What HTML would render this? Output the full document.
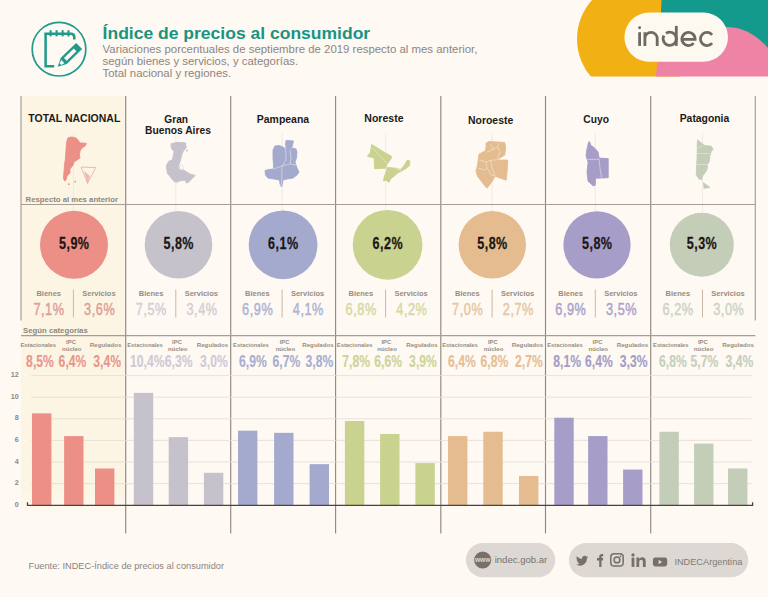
<!DOCTYPE html><html><head><meta charset="utf-8"><title>Índice de precios al consumidor</title>
<style>html,body{margin:0;padding:0;background:#fef9f3;}body{width:768px;height:597px;overflow:hidden;}svg{display:block;font-family:"Liberation Sans", sans-serif;}</style>
</head><body>
<svg width="768" height="597" viewBox="0 0 768 597">
<defs><linearGradient id="hlg" x1="0" y1="0" x2="0" y2="1"><stop offset="0" stop-color="#fdf5e4"/><stop offset="0.93" stop-color="#fdf5e4"/><stop offset="1" stop-color="#fef9f3"/></linearGradient></defs>
<rect x="0" y="0" width="768" height="597" fill="#fef9f3"/>
<rect x="21" y="96" width="104.7" height="424" fill="url(#hlg)"/>
<line x1="73.4" y1="133" x2="73.4" y2="212" stroke="#e9e4dc" stroke-width="0.7"/>
<line x1="175.8" y1="133" x2="175.8" y2="212" stroke="#e9e4dc" stroke-width="0.7"/>
<line x1="282.1" y1="133" x2="282.1" y2="212" stroke="#e9e4dc" stroke-width="0.7"/>
<line x1="385.6" y1="133" x2="385.6" y2="212" stroke="#e9e4dc" stroke-width="0.7"/>
<line x1="492.1" y1="133" x2="492.1" y2="212" stroke="#e9e4dc" stroke-width="0.7"/>
<line x1="595.3" y1="133" x2="595.3" y2="212" stroke="#e9e4dc" stroke-width="0.7"/>
<line x1="702.5" y1="133" x2="702.5" y2="212" stroke="#e9e4dc" stroke-width="0.7"/>
<g fill="none" stroke="#1f9a8b" stroke-linecap="butt">
<circle cx="59" cy="49.2" r="26.8" stroke-width="1.7"/>
<path d="M45.6 33.8 V66.2 H54.2" stroke-width="2.5"/>
<path d="M44.4 33.8 H71.5 Q74.3 34.2 74.3 37.5 V39.6" stroke-width="2.6"/>
<path d="M50.6 30.2 V36.4" stroke-width="2.1"/>
<path d="M56.6 30.2 V36.4" stroke-width="2.1"/>
<path d="M62.6 30.2 V36.4" stroke-width="2.1"/>
<path d="M68.5 30.2 V36.4" stroke-width="2.1"/>
</g>
<g transform="translate(57.7 66.7) rotate(-44)">
<path d="M0 0 L8.5 -4.3 L29.8 -4.3 L29.8 4.3 L8.5 4.3 Z" fill="#1f9a8b"/>
<rect x="10.6" y="-1.9" width="13.6" height="3.8" fill="#fef9f3"/>
<path d="M3.8 -1.2 L7.3 -2.1 L7.3 2.1 L3.8 1.2 Z" fill="#fef9f3"/>
</g>
<text x="102.60" y="38.80" font-size="16" font-weight="bold" fill="#189482" text-anchor="start" textLength="267.6" lengthAdjust="spacingAndGlyphs">Índice de precios al consumidor</text>
<text x="102.60" y="53.20" font-size="11" font-weight="normal" fill="#8c867f" text-anchor="start" textLength="374.8" lengthAdjust="spacingAndGlyphs">Variaciones porcentuales de septiembre de 2019 respecto al mes anterior,</text>
<text x="102.60" y="65.20" font-size="11" font-weight="normal" fill="#8c867f" text-anchor="start" textLength="195.5" lengthAdjust="spacingAndGlyphs">según bienes y servicios, y categorías.</text>
<text x="102.60" y="77.20" font-size="11" font-weight="normal" fill="#8c867f" text-anchor="start" textLength="128.5" lengthAdjust="spacingAndGlyphs">Total nacional y regiones.</text>
<clipPath id="lc"><rect x="560" y="0" width="208" height="76.5"/></clipPath>
<g clip-path="url(#lc)">
<circle cx="635" cy="39" r="58" fill="#f1b014"/>
<path d="M661.6 -2 Q660.2 30 658.6 58 L770 58 L770 -2 Z" fill="#139a8c"/>
<path d="M658.0 56 L655.6 78 L770 78 L770 50.5 Q752 28 728 27 Q690 27 658.0 56 Z" fill="#ee83a6"/>
</g>
<rect x="624.4" y="12.6" width="103.6" height="49.1" rx="24.55" fill="#fdf9f1"/>
<g fill="none" stroke="#6f6963" stroke-width="2.8">
<path d="M639.6 32.2 V45.9"/>
<path d="M644.9 45.9 V32.2 M644.9 38.6 A6.15 6.3 0 0 1 657.2 38.6 V45.9"/>
<path d="M676.3 25.9 V45.9"/>
<path d="M666.0 33.3 A6.6 6.6 0 1 1 663.9 35.7"/>
<path d="M681.9 39.3 H695.1 A6.6 6.6 0 1 0 693.6 43.2"/>
<path d="M712.1 34.8 A6.6 6.6 0 1 0 712.1 43.2"/>
</g>
<circle cx="639.6" cy="27.8" r="1.45" fill="#6f6963"/>
<g stroke="#8f8981" stroke-width="1">
<line x1="21.0" y1="96" x2="21.0" y2="320.5" stroke="#a39d95" stroke-width="1.15"/>
<line x1="125.7" y1="96" x2="125.7" y2="533.5" stroke="#8f8981" stroke-width="1.15"/>
<line x1="230.7" y1="96" x2="230.7" y2="533.5" stroke="#8f8981" stroke-width="1.15"/>
<line x1="335.6" y1="96" x2="335.6" y2="533.5" stroke="#8f8981" stroke-width="1.15"/>
<line x1="440.8" y1="96" x2="440.8" y2="533.5" stroke="#8f8981" stroke-width="1.15"/>
<line x1="545.5" y1="96" x2="545.5" y2="533.5" stroke="#8f8981" stroke-width="1.15"/>
<line x1="650.7" y1="96" x2="650.7" y2="533.5" stroke="#8f8981" stroke-width="1.15"/>
<line x1="755.3" y1="96" x2="755.3" y2="320.5" stroke="#a39d95" stroke-width="1.15"/>
</g>
<line x1="21" y1="204.5" x2="755.3" y2="204.5" stroke="#a49e96" stroke-width="1.1"/>
<line x1="21" y1="335.6" x2="755.3" y2="335.6" stroke="#a49e96" stroke-width="1.1"/>
<text x="25.60" y="201.70" font-size="7.2" font-weight="bold" fill="#8d877d" text-anchor="start" textLength="92.4" lengthAdjust="spacingAndGlyphs">Respecto al mes anterior</text>
<text x="23.10" y="332.50" font-size="7.2" font-weight="bold" fill="#8d877d" text-anchor="start" textLength="64.6" lengthAdjust="spacingAndGlyphs">Según categorías</text>
<text x="28.30" y="122.30" font-size="10" font-weight="bold" fill="#1c1a18" text-anchor="start" textLength="92.0" lengthAdjust="spacingAndGlyphs">TOTAL NACIONAL</text>
<text x="164.30" y="122.80" font-size="10" font-weight="bold" fill="#1c1a18" text-anchor="start" textLength="23.7" lengthAdjust="spacingAndGlyphs">Gran</text>
<text x="145.00" y="134.10" font-size="10" font-weight="bold" fill="#1c1a18" text-anchor="start" textLength="65.9" lengthAdjust="spacingAndGlyphs">Buenos Aires</text>
<text x="256.80" y="122.60" font-size="10" font-weight="bold" fill="#1c1a18" text-anchor="start" textLength="52.3" lengthAdjust="spacingAndGlyphs">Pampeana</text>
<text x="364.30" y="122.30" font-size="10" font-weight="bold" fill="#1c1a18" text-anchor="start" textLength="39.2" lengthAdjust="spacingAndGlyphs">Noreste</text>
<text x="468.00" y="123.50" font-size="10" font-weight="bold" fill="#1c1a18" text-anchor="start" textLength="45.3" lengthAdjust="spacingAndGlyphs">Noroeste</text>
<text x="583.30" y="123.20" font-size="10" font-weight="bold" fill="#1c1a18" text-anchor="start" textLength="25.7" lengthAdjust="spacingAndGlyphs">Cuyo</text>
<text x="679.70" y="121.90" font-size="10" font-weight="bold" fill="#1c1a18" text-anchor="start" textLength="49.6" lengthAdjust="spacingAndGlyphs">Patagonia</text>
<path d="M68.5 137.5 L72 137 L76 138 L78 140 L80 143 L83 143 L86.5 143.5 L85 146 L82 148 L80 151 L79.5 155 L80 158 L77 160 L74 162 L73 165 L70 169 L70 173 L67 176 L66 180 L64.5 181 L63.5 178 L64 172 L64.5 165 L65.5 158 L66 150 L66.5 143 L67.5 139 Z" fill="#ec8f87" stroke="#ec8f87" stroke-width="0.9" stroke-linejoin="round"/>
<path d="M171.1 143.8 L177.1 142.3 L185.4 142.8 L186.2 147.6 L183.2 151.4 L181.7 155.2 L180.2 161.2 L178.6 165.7 L180.2 169.5 L183.9 170.2 L190 174 L195.2 175.5 L192.2 178.5 L188.4 182.3 L186.2 183 L185.4 180 L180.2 180.8 L176.4 182.3 L174.1 181.5 L171.1 177.8 L167.3 173.2 L166.3 165.7 L168.8 161.2 L172.6 159.7 L173.4 154.4 L174.1 151.4 L171.9 149.1 L171.1 146.9 Z" fill="#c6c2cb" stroke="#c6c2cb" stroke-width="0.9" stroke-linejoin="round"/>
<path d="M286 140.5 L293.5 141 L292 147 L290 150 L293 148 L296 149 L297 152 L296.5 158 L295 162 L296 165 L297 168 L299 172 L297 175 L293 178 L287 179 L283 180 L282.5 184 L281.5 187 L280 184 L279.5 180 L274 179 L268 178 L265.5 175 L265 170.5 L269 169.5 L273.5 169 L273.5 165 L273 158 L273 150 L275 146 L279 145.5 L283 147 L285 149 L285.5 145 Z" fill="#a3aacd" stroke="#a3aacd" stroke-width="0.9" stroke-linejoin="round"/>
<path d="M371.6 144.4 L383.8 151.9 L391.7 156.5 L390.9 159 L387.1 164 L385.5 168.2 L374.6 168.7 L374.1 157.8 L367.4 156.5 L370.4 152.3 L371.2 147.7 Z" fill="#c9d28f" stroke="#c9d28f" stroke-width="0.9" stroke-linejoin="round"/>
<path d="M387.1 167.4 L395.5 168.2 L400.5 169.5 L403.9 165.7 L407.2 160.3 L409.7 160.7 L409.7 165.3 L406.4 168.2 L401.4 171.2 L398 172.8 L390.9 178.7 L388.8 182.5 L386.3 180.4 L383.4 180.8 L384.2 177 L386.7 170.3 Z" fill="#c9d28f" stroke="#c9d28f" stroke-width="0.9" stroke-linejoin="round"/>
<path d="M486.1 143 L489.1 141.5 L497.1 142 L504.7 142.5 L505.7 148 L504.7 155.1 L497.5 159.5 L497.1 160.1 L507.7 160.1 L507.2 170 L506.2 180.2 L495.1 176.2 L491.6 182.2 L487.1 188.2 L485.1 186.2 L477.5 176.2 L476 171.2 L477.5 165.1 L479 154.1 L485.1 151.1 L486.1 147.1 Z" fill="#e5bc8f" stroke="#e5bc8f" stroke-width="0.9" stroke-linejoin="round"/>
<path d="M589.1 141.5 L590.3 143.2 L590.6 145.1 L594.6 148.1 L598.1 152.1 L599.1 158.1 L608.2 158.6 L608.2 177.7 L595.6 178.2 L595.1 185.3 L593.1 185.8 L588.1 181.2 L587 172.2 L588.1 162.2 L586 155.6 L587 149.1 L587.8 145.5 L588.4 143 Z" fill="#a69ec8" stroke="#a69ec8" stroke-width="0.9" stroke-linejoin="round"/>
<path d="M697.8 139.8 L700 142 L704.3 145.3 L711.4 146.3 L713.1 149.6 L711.4 150.7 L709.8 156.2 L709.3 161.6 L707.1 164.9 L707.6 167.6 L706 171.4 L702.7 175.8 L701.6 179.6 L698.9 179 L696.2 174.7 L696.7 166 L697.3 151.8 L697.3 143.1 Z" fill="#c3cdb7" stroke="#c3cdb7" stroke-width="0.9" stroke-linejoin="round"/>
<path d="M703.5 182.8 L710 187.5 L704 188.2 Z" fill="#c3cdb7" stroke="#c3cdb7" stroke-width="0.9" stroke-linejoin="round"/>
<circle cx="186.9" cy="150.6" r="1" fill="#c6c2cb"/>
<circle cx="181" cy="167.3" r="2.3" fill="none" stroke="#e2dfe4" stroke-width="0.9"/>
<path d="M285.5 145 L286 160 L282 166 L281.5 186" fill="none" stroke="#f3efe6" stroke-width="0.6" opacity="0.85"/>
<path d="M273.5 169 L282 166 L290 164 L296 165" fill="none" stroke="#f3efe6" stroke-width="0.6" opacity="0.85"/>
<path d="M290 150 L291 158 L290 164" fill="none" stroke="#f3efe6" stroke-width="0.6" opacity="0.85"/>
<path d="M372 147.5 L387 163.5" fill="none" stroke="#f3efe6" stroke-width="0.6" opacity="0.85"/>
<path d="M396 168.4 L401.5 171" fill="none" stroke="#f3efe6" stroke-width="0.6" opacity="0.85"/>
<path d="M487 152 L492 150 L497.5 147 L499 143" fill="none" stroke="#f3efe6" stroke-width="0.6" opacity="0.85"/>
<path d="M497.5 147 L500 152 L497 159.5" fill="none" stroke="#f3efe6" stroke-width="0.6" opacity="0.85"/>
<path d="M479.5 160 L486 162 L492 160 L497 160" fill="none" stroke="#f3efe6" stroke-width="0.6" opacity="0.85"/>
<path d="M486 162 L487 168 L491 175 L495 176" fill="none" stroke="#f3efe6" stroke-width="0.6" opacity="0.85"/>
<path d="M478 168 L484 170 L487 168" fill="none" stroke="#f3efe6" stroke-width="0.6" opacity="0.85"/>
<path d="M491 160 L492 168 L495 176" fill="none" stroke="#f3efe6" stroke-width="0.6" opacity="0.85"/>
<path d="M490.5 144 L494 150" fill="none" stroke="#f3efe6" stroke-width="0.6" opacity="0.85"/>
<path d="M587.5 159.5 L599 159.2" fill="none" stroke="#f3efe6" stroke-width="0.6" opacity="0.85"/>
<path d="M599 159 L600 168 L601.5 177.8" fill="none" stroke="#f3efe6" stroke-width="0.6" opacity="0.85"/>
<path d="M697.5 153.5 L710 153.5" fill="none" stroke="#f3efe6" stroke-width="0.6" opacity="0.85"/>
<path d="M697 164.5 L708 164.5" fill="none" stroke="#f3efe6" stroke-width="0.6" opacity="0.85"/>
<path d="M698 148 L703 145.5" fill="none" stroke="#f3efe6" stroke-width="0.6" opacity="0.85"/>
<path d="M81 167 L95.7 167.6 L87.6 183.4 Z" fill="none" stroke="#e6a9a3" stroke-width="0.8"/>
<path d="M84 171 L87.6 183.4 L90 176 Z" fill="#eaa39c" opacity="0.7"/>
<circle cx="68.8" cy="184.2" r="0.9" fill="#ec8f87"/><circle cx="75.2" cy="181.6" r="0.9" fill="#ec8f87"/>
<circle cx="74.0" cy="244.8" r="34.00" fill="#ec8f87"/>
<text transform="translate(74.00 248.50) scale(0.8 1)" x="0" y="0" font-size="15.7" font-weight="bold" fill="#1a1614" text-anchor="middle" textLength="37.50" lengthAdjust="spacing" stroke="#1a1614" stroke-width="0.25">5,9%</text>
<circle cx="178.5" cy="244.8" r="33.80" fill="#c6c2cb"/>
<text transform="translate(178.50 248.50) scale(0.8 1)" x="0" y="0" font-size="15.7" font-weight="bold" fill="#1a1614" text-anchor="middle" textLength="37.50" lengthAdjust="spacing" stroke="#1a1614" stroke-width="0.25">5,8%</text>
<circle cx="283.1" cy="244.8" r="34.40" fill="#a3aacd"/>
<text transform="translate(283.10 248.50) scale(0.8 1)" x="0" y="0" font-size="15.7" font-weight="bold" fill="#1a1614" text-anchor="middle" textLength="37.50" lengthAdjust="spacing" stroke="#1a1614" stroke-width="0.25">6,1%</text>
<circle cx="387.6" cy="244.8" r="34.85" fill="#c9d28f"/>
<text transform="translate(387.60 248.50) scale(0.8 1)" x="0" y="0" font-size="15.7" font-weight="bold" fill="#1a1614" text-anchor="middle" textLength="37.50" lengthAdjust="spacing" stroke="#1a1614" stroke-width="0.25">6,2%</text>
<circle cx="492.3" cy="244.8" r="33.70" fill="#e5bc8f"/>
<text transform="translate(492.30 248.50) scale(0.8 1)" x="0" y="0" font-size="15.7" font-weight="bold" fill="#1a1614" text-anchor="middle" textLength="37.50" lengthAdjust="spacing" stroke="#1a1614" stroke-width="0.25">5,8%</text>
<circle cx="597.0" cy="244.8" r="33.65" fill="#a69ec8"/>
<text transform="translate(597.00 248.50) scale(0.8 1)" x="0" y="0" font-size="15.7" font-weight="bold" fill="#1a1614" text-anchor="middle" textLength="37.50" lengthAdjust="spacing" stroke="#1a1614" stroke-width="0.25">5,8%</text>
<circle cx="701.8" cy="244.8" r="32.00" fill="#c3cdb7"/>
<text transform="translate(701.80 248.50) scale(0.8 1)" x="0" y="0" font-size="15.7" font-weight="bold" fill="#1a1614" text-anchor="middle" textLength="37.50" lengthAdjust="spacing" stroke="#1a1614" stroke-width="0.25">5,3%</text>
<text x="48.70" y="295.70" font-size="7.2" font-weight="bold" fill="#958e83" text-anchor="middle" textLength="24.6" lengthAdjust="spacingAndGlyphs">Bienes</text>
<text x="98.90" y="295.70" font-size="7.2" font-weight="bold" fill="#958e83" text-anchor="middle" textLength="33.3" lengthAdjust="spacingAndGlyphs">Servicios</text>
<text transform="translate(48.70 314.80) scale(0.78 1)" x="0" y="0" font-size="16.3" font-weight="normal" fill="#dca097" text-anchor="middle" textLength="39.23" lengthAdjust="spacing" stroke="#dca097" stroke-width="0.45">7,1%</text>
<text transform="translate(99.40 314.80) scale(0.78 1)" x="0" y="0" font-size="16.3" font-weight="normal" fill="#dca097" text-anchor="middle" textLength="39.23" lengthAdjust="spacing" stroke="#dca097" stroke-width="0.45">3,6%</text>
<line x1="73.4" y1="289.5" x2="73.4" y2="317.5" stroke="#c9b8a6" stroke-width="1"/>
<text x="151.10" y="295.70" font-size="7.2" font-weight="bold" fill="#958e83" text-anchor="middle" textLength="24.6" lengthAdjust="spacingAndGlyphs">Bienes</text>
<text x="201.30" y="295.70" font-size="7.2" font-weight="bold" fill="#958e83" text-anchor="middle" textLength="33.3" lengthAdjust="spacingAndGlyphs">Servicios</text>
<text transform="translate(151.10 314.80) scale(0.78 1)" x="0" y="0" font-size="16.3" font-weight="normal" fill="#d3cfd6" text-anchor="middle" textLength="39.23" lengthAdjust="spacing" stroke="#d3cfd6" stroke-width="0.45">7,5%</text>
<text transform="translate(201.80 314.80) scale(0.78 1)" x="0" y="0" font-size="16.3" font-weight="normal" fill="#d3cfd6" text-anchor="middle" textLength="39.23" lengthAdjust="spacing" stroke="#d3cfd6" stroke-width="0.45">3,4%</text>
<line x1="175.8" y1="289.5" x2="175.8" y2="317.5" stroke="#c9b8a6" stroke-width="1"/>
<text x="257.40" y="295.70" font-size="7.2" font-weight="bold" fill="#958e83" text-anchor="middle" textLength="24.6" lengthAdjust="spacingAndGlyphs">Bienes</text>
<text x="307.60" y="295.70" font-size="7.2" font-weight="bold" fill="#958e83" text-anchor="middle" textLength="33.3" lengthAdjust="spacingAndGlyphs">Servicios</text>
<text transform="translate(257.40 314.80) scale(0.78 1)" x="0" y="0" font-size="16.3" font-weight="normal" fill="#acb3d3" text-anchor="middle" textLength="39.23" lengthAdjust="spacing" stroke="#acb3d3" stroke-width="0.45">6,9%</text>
<text transform="translate(308.10 314.80) scale(0.78 1)" x="0" y="0" font-size="16.3" font-weight="normal" fill="#acb3d3" text-anchor="middle" textLength="39.23" lengthAdjust="spacing" stroke="#acb3d3" stroke-width="0.45">4,1%</text>
<line x1="282.1" y1="289.5" x2="282.1" y2="317.5" stroke="#c9b8a6" stroke-width="1"/>
<text x="360.90" y="295.70" font-size="7.2" font-weight="bold" fill="#958e83" text-anchor="middle" textLength="24.6" lengthAdjust="spacingAndGlyphs">Bienes</text>
<text x="411.10" y="295.70" font-size="7.2" font-weight="bold" fill="#958e83" text-anchor="middle" textLength="33.3" lengthAdjust="spacingAndGlyphs">Servicios</text>
<text transform="translate(360.90 314.80) scale(0.78 1)" x="0" y="0" font-size="16.3" font-weight="normal" fill="#d3d9a5" text-anchor="middle" textLength="39.23" lengthAdjust="spacing" stroke="#d3d9a5" stroke-width="0.45">6,8%</text>
<text transform="translate(411.60 314.80) scale(0.78 1)" x="0" y="0" font-size="16.3" font-weight="normal" fill="#d3d9a5" text-anchor="middle" textLength="39.23" lengthAdjust="spacing" stroke="#d3d9a5" stroke-width="0.45">4,2%</text>
<line x1="385.6" y1="289.5" x2="385.6" y2="317.5" stroke="#c9b8a6" stroke-width="1"/>
<text x="467.40" y="295.70" font-size="7.2" font-weight="bold" fill="#958e83" text-anchor="middle" textLength="24.6" lengthAdjust="spacingAndGlyphs">Bienes</text>
<text x="517.60" y="295.70" font-size="7.2" font-weight="bold" fill="#958e83" text-anchor="middle" textLength="33.3" lengthAdjust="spacingAndGlyphs">Servicios</text>
<text transform="translate(467.40 314.80) scale(0.78 1)" x="0" y="0" font-size="16.3" font-weight="normal" fill="#e6c6a4" text-anchor="middle" textLength="39.23" lengthAdjust="spacing" stroke="#e6c6a4" stroke-width="0.45">7,0%</text>
<text transform="translate(518.10 314.80) scale(0.78 1)" x="0" y="0" font-size="16.3" font-weight="normal" fill="#e6c6a4" text-anchor="middle" textLength="39.23" lengthAdjust="spacing" stroke="#e6c6a4" stroke-width="0.45">2,7%</text>
<line x1="492.1" y1="289.5" x2="492.1" y2="317.5" stroke="#c9b8a6" stroke-width="1"/>
<text x="570.60" y="295.70" font-size="7.2" font-weight="bold" fill="#958e83" text-anchor="middle" textLength="24.6" lengthAdjust="spacingAndGlyphs">Bienes</text>
<text x="620.80" y="295.70" font-size="7.2" font-weight="bold" fill="#958e83" text-anchor="middle" textLength="33.3" lengthAdjust="spacingAndGlyphs">Servicios</text>
<text transform="translate(570.60 314.80) scale(0.78 1)" x="0" y="0" font-size="16.3" font-weight="normal" fill="#aaa2cb" text-anchor="middle" textLength="39.23" lengthAdjust="spacing" stroke="#aaa2cb" stroke-width="0.45">6,9%</text>
<text transform="translate(621.30 314.80) scale(0.78 1)" x="0" y="0" font-size="16.3" font-weight="normal" fill="#aaa2cb" text-anchor="middle" textLength="39.23" lengthAdjust="spacing" stroke="#aaa2cb" stroke-width="0.45">3,5%</text>
<line x1="595.3" y1="289.5" x2="595.3" y2="317.5" stroke="#c9b8a6" stroke-width="1"/>
<text x="677.80" y="295.70" font-size="7.2" font-weight="bold" fill="#958e83" text-anchor="middle" textLength="24.6" lengthAdjust="spacingAndGlyphs">Bienes</text>
<text x="728.00" y="295.70" font-size="7.2" font-weight="bold" fill="#958e83" text-anchor="middle" textLength="33.3" lengthAdjust="spacingAndGlyphs">Servicios</text>
<text transform="translate(677.80 314.80) scale(0.78 1)" x="0" y="0" font-size="16.3" font-weight="normal" fill="#cdd3c5" text-anchor="middle" textLength="39.23" lengthAdjust="spacing" stroke="#cdd3c5" stroke-width="0.45">6,2%</text>
<text transform="translate(728.50 314.80) scale(0.78 1)" x="0" y="0" font-size="16.3" font-weight="normal" fill="#cdd3c5" text-anchor="middle" textLength="39.23" lengthAdjust="spacing" stroke="#cdd3c5" stroke-width="0.45">3,0%</text>
<line x1="702.5" y1="289.5" x2="702.5" y2="317.5" stroke="#c9b8a6" stroke-width="1"/>
<text x="38.25" y="347.40" font-size="6.2" font-weight="bold" fill="#958e83" text-anchor="middle" textLength="35.6" lengthAdjust="spacingAndGlyphs">Estacionales</text>
<text x="71.00" y="344.20" font-size="6.2" font-weight="bold" fill="#958e83" text-anchor="middle" textLength="9.8" lengthAdjust="spacingAndGlyphs">IPC</text>
<text x="71.80" y="350.80" font-size="6.2" font-weight="bold" fill="#958e83" text-anchor="middle" textLength="19.5" lengthAdjust="spacingAndGlyphs">núcleo</text>
<text x="105.60" y="347.40" font-size="6.2" font-weight="bold" fill="#958e83" text-anchor="middle" textLength="31.5" lengthAdjust="spacingAndGlyphs">Regulados</text>
<text transform="translate(40.00 367.00) scale(0.74 1)" x="0" y="0" font-size="16.4" font-weight="bold" fill="#e8958e" text-anchor="middle" textLength="37.57" lengthAdjust="spacing" stroke="#e8958e" stroke-width="0.15">8,5%</text>
<text transform="translate(72.50 367.00) scale(0.74 1)" x="0" y="0" font-size="16.4" font-weight="bold" fill="#e8958e" text-anchor="middle" textLength="37.57" lengthAdjust="spacing" stroke="#e8958e" stroke-width="0.15">6,4%</text>
<text transform="translate(107.10 367.00) scale(0.74 1)" x="0" y="0" font-size="16.4" font-weight="bold" fill="#e8958e" text-anchor="middle" textLength="37.57" lengthAdjust="spacing" stroke="#e8958e" stroke-width="0.15">3,4%</text>
<text x="145.00" y="347.40" font-size="6.2" font-weight="bold" fill="#958e83" text-anchor="middle" textLength="35.6" lengthAdjust="spacingAndGlyphs">Estacionales</text>
<text x="177.00" y="344.20" font-size="6.2" font-weight="bold" fill="#958e83" text-anchor="middle" textLength="9.8" lengthAdjust="spacingAndGlyphs">IPC</text>
<text x="177.80" y="350.80" font-size="6.2" font-weight="bold" fill="#958e83" text-anchor="middle" textLength="19.5" lengthAdjust="spacingAndGlyphs">núcleo</text>
<text x="212.50" y="347.40" font-size="6.2" font-weight="bold" fill="#958e83" text-anchor="middle" textLength="31.5" lengthAdjust="spacingAndGlyphs">Regulados</text>
<text transform="translate(147.30 367.00) scale(0.74 1)" x="0" y="0" font-size="16.4" font-weight="bold" fill="#cfcbd3" text-anchor="middle" textLength="46.49" lengthAdjust="spacing" stroke="#cfcbd3" stroke-width="0.15">10,4%</text>
<text transform="translate(178.60 367.00) scale(0.74 1)" x="0" y="0" font-size="16.4" font-weight="bold" fill="#cfcbd3" text-anchor="middle" textLength="37.57" lengthAdjust="spacing" stroke="#cfcbd3" stroke-width="0.15">6,3%</text>
<text transform="translate(213.90 367.00) scale(0.74 1)" x="0" y="0" font-size="16.4" font-weight="bold" fill="#cfcbd3" text-anchor="middle" textLength="37.57" lengthAdjust="spacing" stroke="#cfcbd3" stroke-width="0.15">3,0%</text>
<text x="250.90" y="347.40" font-size="6.2" font-weight="bold" fill="#958e83" text-anchor="middle" textLength="35.6" lengthAdjust="spacingAndGlyphs">Estacionales</text>
<text x="284.60" y="344.20" font-size="6.2" font-weight="bold" fill="#958e83" text-anchor="middle" textLength="9.8" lengthAdjust="spacingAndGlyphs">IPC</text>
<text x="285.40" y="350.80" font-size="6.2" font-weight="bold" fill="#958e83" text-anchor="middle" textLength="19.5" lengthAdjust="spacingAndGlyphs">núcleo</text>
<text x="318.00" y="347.40" font-size="6.2" font-weight="bold" fill="#958e83" text-anchor="middle" textLength="31.5" lengthAdjust="spacingAndGlyphs">Regulados</text>
<text transform="translate(252.80 367.00) scale(0.74 1)" x="0" y="0" font-size="16.4" font-weight="bold" fill="#a7aed0" text-anchor="middle" textLength="37.57" lengthAdjust="spacing" stroke="#a7aed0" stroke-width="0.15">6,9%</text>
<text transform="translate(286.30 367.00) scale(0.74 1)" x="0" y="0" font-size="16.4" font-weight="bold" fill="#a7aed0" text-anchor="middle" textLength="37.57" lengthAdjust="spacing" stroke="#a7aed0" stroke-width="0.15">6,7%</text>
<text transform="translate(319.30 367.00) scale(0.74 1)" x="0" y="0" font-size="16.4" font-weight="bold" fill="#a7aed0" text-anchor="middle" textLength="37.57" lengthAdjust="spacing" stroke="#a7aed0" stroke-width="0.15">3,8%</text>
<text x="354.60" y="347.40" font-size="6.2" font-weight="bold" fill="#958e83" text-anchor="middle" textLength="35.6" lengthAdjust="spacingAndGlyphs">Estacionales</text>
<text x="386.30" y="344.20" font-size="6.2" font-weight="bold" fill="#958e83" text-anchor="middle" textLength="9.8" lengthAdjust="spacingAndGlyphs">IPC</text>
<text x="387.10" y="350.80" font-size="6.2" font-weight="bold" fill="#958e83" text-anchor="middle" textLength="19.5" lengthAdjust="spacingAndGlyphs">núcleo</text>
<text x="422.00" y="347.40" font-size="6.2" font-weight="bold" fill="#958e83" text-anchor="middle" textLength="31.5" lengthAdjust="spacingAndGlyphs">Regulados</text>
<text transform="translate(356.20 367.00) scale(0.74 1)" x="0" y="0" font-size="16.4" font-weight="bold" fill="#ccd597" text-anchor="middle" textLength="37.57" lengthAdjust="spacing" stroke="#ccd597" stroke-width="0.15">7,8%</text>
<text transform="translate(388.20 367.00) scale(0.74 1)" x="0" y="0" font-size="16.4" font-weight="bold" fill="#ccd597" text-anchor="middle" textLength="37.57" lengthAdjust="spacing" stroke="#ccd597" stroke-width="0.15">6,6%</text>
<text transform="translate(423.00 367.00) scale(0.74 1)" x="0" y="0" font-size="16.4" font-weight="bold" fill="#ccd597" text-anchor="middle" textLength="37.57" lengthAdjust="spacing" stroke="#ccd597" stroke-width="0.15">3,9%</text>
<text x="460.00" y="347.40" font-size="6.2" font-weight="bold" fill="#958e83" text-anchor="middle" textLength="35.6" lengthAdjust="spacingAndGlyphs">Estacionales</text>
<text x="492.80" y="344.20" font-size="6.2" font-weight="bold" fill="#958e83" text-anchor="middle" textLength="9.8" lengthAdjust="spacingAndGlyphs">IPC</text>
<text x="493.60" y="350.80" font-size="6.2" font-weight="bold" fill="#958e83" text-anchor="middle" textLength="19.5" lengthAdjust="spacingAndGlyphs">núcleo</text>
<text x="527.50" y="347.40" font-size="6.2" font-weight="bold" fill="#958e83" text-anchor="middle" textLength="31.5" lengthAdjust="spacingAndGlyphs">Regulados</text>
<text transform="translate(461.90 367.00) scale(0.74 1)" x="0" y="0" font-size="16.4" font-weight="bold" fill="#e5be95" text-anchor="middle" textLength="37.57" lengthAdjust="spacing" stroke="#e5be95" stroke-width="0.15">6,4%</text>
<text transform="translate(494.40 367.00) scale(0.74 1)" x="0" y="0" font-size="16.4" font-weight="bold" fill="#e5be95" text-anchor="middle" textLength="37.57" lengthAdjust="spacing" stroke="#e5be95" stroke-width="0.15">6,8%</text>
<text transform="translate(528.80 367.00) scale(0.74 1)" x="0" y="0" font-size="16.4" font-weight="bold" fill="#e5be95" text-anchor="middle" textLength="37.57" lengthAdjust="spacing" stroke="#e5be95" stroke-width="0.15">2,7%</text>
<text x="565.00" y="347.40" font-size="6.2" font-weight="bold" fill="#958e83" text-anchor="middle" textLength="35.6" lengthAdjust="spacingAndGlyphs">Estacionales</text>
<text x="597.50" y="344.20" font-size="6.2" font-weight="bold" fill="#958e83" text-anchor="middle" textLength="9.8" lengthAdjust="spacingAndGlyphs">IPC</text>
<text x="598.30" y="350.80" font-size="6.2" font-weight="bold" fill="#958e83" text-anchor="middle" textLength="19.5" lengthAdjust="spacingAndGlyphs">núcleo</text>
<text x="632.50" y="347.40" font-size="6.2" font-weight="bold" fill="#958e83" text-anchor="middle" textLength="31.5" lengthAdjust="spacingAndGlyphs">Regulados</text>
<text transform="translate(567.10 367.00) scale(0.74 1)" x="0" y="0" font-size="16.4" font-weight="bold" fill="#a59dc7" text-anchor="middle" textLength="37.57" lengthAdjust="spacing" stroke="#a59dc7" stroke-width="0.15">8,1%</text>
<text transform="translate(598.90 367.00) scale(0.74 1)" x="0" y="0" font-size="16.4" font-weight="bold" fill="#a59dc7" text-anchor="middle" textLength="37.57" lengthAdjust="spacing" stroke="#a59dc7" stroke-width="0.15">6,4%</text>
<text transform="translate(633.70 367.00) scale(0.74 1)" x="0" y="0" font-size="16.4" font-weight="bold" fill="#a59dc7" text-anchor="middle" textLength="37.57" lengthAdjust="spacing" stroke="#a59dc7" stroke-width="0.15">3,3%</text>
<text x="670.80" y="347.40" font-size="6.2" font-weight="bold" fill="#958e83" text-anchor="middle" textLength="35.6" lengthAdjust="spacingAndGlyphs">Estacionales</text>
<text x="702.80" y="344.20" font-size="6.2" font-weight="bold" fill="#958e83" text-anchor="middle" textLength="9.8" lengthAdjust="spacingAndGlyphs">IPC</text>
<text x="703.60" y="350.80" font-size="6.2" font-weight="bold" fill="#958e83" text-anchor="middle" textLength="19.5" lengthAdjust="spacingAndGlyphs">núcleo</text>
<text x="738.10" y="347.40" font-size="6.2" font-weight="bold" fill="#958e83" text-anchor="middle" textLength="31.5" lengthAdjust="spacingAndGlyphs">Regulados</text>
<text transform="translate(672.80 367.00) scale(0.74 1)" x="0" y="0" font-size="16.4" font-weight="bold" fill="#c6cfbb" text-anchor="middle" textLength="37.57" lengthAdjust="spacing" stroke="#c6cfbb" stroke-width="0.15">6,8%</text>
<text transform="translate(704.40 367.00) scale(0.74 1)" x="0" y="0" font-size="16.4" font-weight="bold" fill="#c6cfbb" text-anchor="middle" textLength="37.57" lengthAdjust="spacing" stroke="#c6cfbb" stroke-width="0.15">5,7%</text>
<text transform="translate(739.30 367.00) scale(0.74 1)" x="0" y="0" font-size="16.4" font-weight="bold" fill="#c6cfbb" text-anchor="middle" textLength="37.57" lengthAdjust="spacing" stroke="#c6cfbb" stroke-width="0.15">3,4%</text>
<line x1="31" y1="483.60" x2="751.6" y2="483.60" stroke="#e4dfd6" stroke-width="0.9"/>
<line x1="31" y1="462.00" x2="751.6" y2="462.00" stroke="#e4dfd6" stroke-width="0.9"/>
<line x1="31" y1="440.40" x2="751.6" y2="440.40" stroke="#e4dfd6" stroke-width="0.9"/>
<line x1="31" y1="418.80" x2="751.6" y2="418.80" stroke="#e4dfd6" stroke-width="0.9"/>
<line x1="31" y1="397.20" x2="751.6" y2="397.20" stroke="#e4dfd6" stroke-width="0.9"/>
<line x1="31" y1="375.60" x2="751.6" y2="375.60" stroke="#e4dfd6" stroke-width="0.9"/>
<text x="18.80" y="506.70" font-size="7.2" font-weight="bold" fill="#8d877d" text-anchor="end">0</text>
<text x="18.80" y="485.10" font-size="7.2" font-weight="bold" fill="#8d877d" text-anchor="end">2</text>
<text x="18.80" y="463.50" font-size="7.2" font-weight="bold" fill="#8d877d" text-anchor="end">4</text>
<text x="18.80" y="441.90" font-size="7.2" font-weight="bold" fill="#8d877d" text-anchor="end">6</text>
<text x="18.80" y="420.30" font-size="7.2" font-weight="bold" fill="#8d877d" text-anchor="end">8</text>
<text x="18.80" y="398.70" font-size="7.2" font-weight="bold" fill="#8d877d" text-anchor="end">10</text>
<text x="18.80" y="377.10" font-size="7.2" font-weight="bold" fill="#8d877d" text-anchor="end">12</text>
<rect x="32.0" y="413.40" width="19.4" height="91.80" fill="#ec8f87"/>
<rect x="64.1" y="436.08" width="19.4" height="69.12" fill="#ec8f87"/>
<rect x="95.0" y="468.48" width="19.4" height="36.72" fill="#ec8f87"/>
<rect x="133.8" y="392.88" width="19.4" height="112.32" fill="#c6c2cb"/>
<rect x="168.7" y="437.16" width="19.4" height="68.04" fill="#c6c2cb"/>
<rect x="203.9" y="472.80" width="19.4" height="32.40" fill="#c6c2cb"/>
<rect x="238.0" y="430.68" width="19.4" height="74.52" fill="#a3aacd"/>
<rect x="274.1" y="432.84" width="19.4" height="72.36" fill="#a3aacd"/>
<rect x="309.6" y="464.16" width="19.4" height="41.04" fill="#a3aacd"/>
<rect x="344.9" y="420.96" width="19.4" height="84.24" fill="#c9d28f"/>
<rect x="380.1" y="433.92" width="19.4" height="71.28" fill="#c9d28f"/>
<rect x="415.4" y="463.08" width="19.4" height="42.12" fill="#c9d28f"/>
<rect x="448.0" y="436.08" width="19.4" height="69.12" fill="#e5bc8f"/>
<rect x="483.3" y="431.76" width="19.4" height="73.44" fill="#e5bc8f"/>
<rect x="519.0" y="476.04" width="19.4" height="29.16" fill="#e5bc8f"/>
<rect x="554.3" y="417.72" width="19.4" height="87.48" fill="#a69ec8"/>
<rect x="588.1" y="436.08" width="19.4" height="69.12" fill="#a69ec8"/>
<rect x="623.1" y="469.56" width="19.4" height="35.64" fill="#a69ec8"/>
<rect x="659.4" y="431.76" width="19.4" height="73.44" fill="#c3cdb7"/>
<rect x="694.1" y="443.64" width="19.4" height="61.56" fill="#c3cdb7"/>
<rect x="728.0" y="468.48" width="19.4" height="36.72" fill="#c3cdb7"/>
<path d="M27.5 502.2 V505.4 H752.6 V502.2" fill="none" stroke="#4a443f" stroke-width="1.3"/>
<text x="28.60" y="569.30" font-size="9.2" font-weight="normal" fill="#8a847c" text-anchor="start" textLength="195.4" lengthAdjust="spacingAndGlyphs">Fuente: INDEC-Índice de precios al consumidor</text>
<rect x="465.9" y="542.9" width="89.4" height="34.3" rx="17.15" fill="#ddd8d3"/>
<circle cx="482.7" cy="560" r="8.6" fill="#767069"/>
<text x="482.70" y="562.30" font-size="6.3" font-weight="bold" fill="#ddd8d3" text-anchor="middle" textLength="15.6" lengthAdjust="spacingAndGlyphs">www</text>
<text x="494.70" y="563.40" font-size="9.5" font-weight="normal" fill="#77716b" text-anchor="start" textLength="52.5" lengthAdjust="spacingAndGlyphs">indec.gob.ar</text>
<rect x="568.9" y="543.1" width="179.3" height="34.2" rx="17.1" fill="#ddd8d3"/>
<path transform="translate(576.1 555.6) scale(0.52)" fill="#767069" d="M23.6 2.6c-.9.4-1.8.6-2.8.8 1-.6 1.8-1.6 2.1-2.7-.9.6-2 1-3.1 1.2C18.9.9 17.6.3 16.3.3c-2.7 0-4.8 2.2-4.8 4.8 0 .4 0 .8.1 1.1C7.5 6 3.9 4.1 1.5 1.1c-.4.7-.7 1.6-.7 2.4 0 1.7.9 3.2 2.2 4-.8 0-1.5-.2-2.2-.6v.1c0 2.3 1.7 4.3 3.9 4.7-.4.1-.8.2-1.3.2-.3 0-.6 0-.9-.1.6 1.9 2.4 3.3 4.5 3.4-1.7 1.3-3.7 2.1-6 2.1-.4 0-.8 0-1.2-.1 2.1 1.4 4.7 2.2 7.4 2.2 8.9 0 13.7-7.4 13.7-13.7v-.6c1-.7 1.8-1.5 2.5-2.5z"/>
<path fill="#767069" d="M599.2 566.9 V560.4 H597 V558 H599.2 V556.6 Q599.2 553.9 602.1 553.9 H603.2 V556.2 H602.4 Q601.5 556.2 601.5 557.1 V558 H603.2 L602.9 560.4 H601.5 V566.9 Z"/>
<rect x="610.8" y="553.7" width="12.4" height="12.4" rx="3.3" fill="none" stroke="#767069" stroke-width="1.5"/>
<circle cx="617" cy="559.9" r="2.9" fill="none" stroke="#767069" stroke-width="1.5"/>
<circle cx="620.5" cy="556.4" r="0.8" fill="#767069"/>
<rect x="631.6" y="557.6" width="2.8" height="9.3" fill="#767069"/>
<circle cx="633" cy="554.9" r="1.6" fill="#767069"/>
<path fill="#767069" d="M636.4 557.6 H639.1 V558.9 Q640.2 557.3 642.2 557.3 Q645.7 557.3 645.7 561.4 V566.9 H642.9 V561.9 Q642.9 559.8 641.3 559.8 Q639.2 559.8 639.2 562.1 V566.9 H636.4 Z"/>
<rect x="652.9" y="557.6" width="14.3" height="8.9" rx="2.4" fill="#767069"/>
<path d="M658.6 559.8 L662.1 562 L658.6 564.2 Z" fill="#ddd8d3"/>
<text x="674.40" y="565.10" font-size="9.4" font-weight="normal" fill="#807a74" text-anchor="start" textLength="68.0" lengthAdjust="spacingAndGlyphs">INDECArgentina</text>
</svg></body></html>
